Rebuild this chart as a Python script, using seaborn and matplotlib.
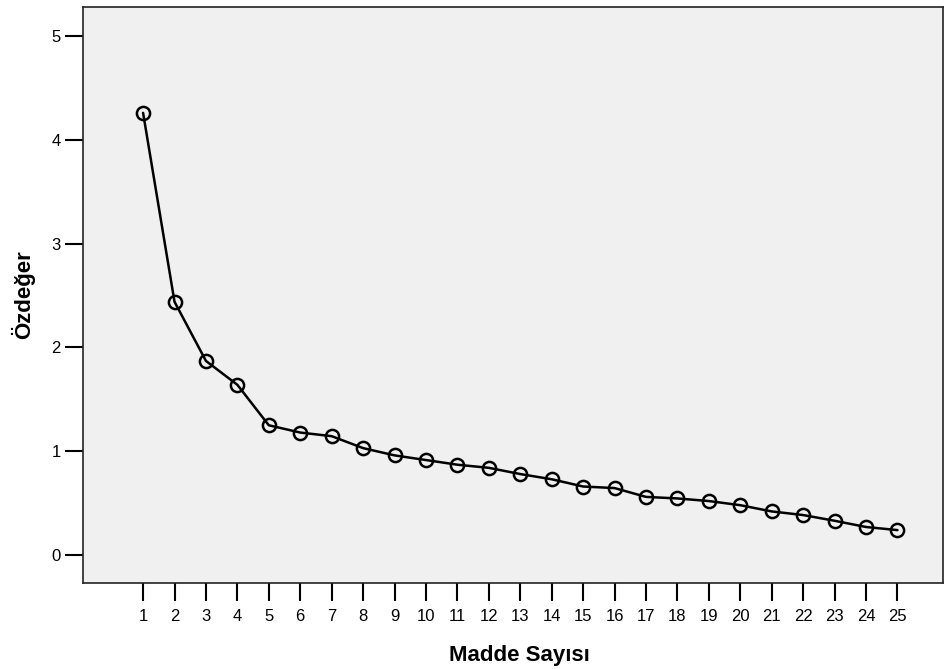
import pandas as pd
import matplotlib.pyplot as plt
import seaborn as sns

# Scree plot values
madde = list(range(1, 26))
ozdeger = [4.26, 2.44, 1.87, 1.64, 1.25, 1.18, 1.145, 1.03, 0.96, 0.915,
           0.87, 0.84, 0.78, 0.73, 0.66, 0.645, 0.56, 0.545, 0.52, 0.48,
           0.42, 0.385, 0.33, 0.27, 0.24]
y_ticks = [0, 1, 2, 3, 4, 5]

df = pd.DataFrame({'Madde Sayısı': madde, 'Özdeğer': ozdeger})

sns.set_style('white')
plt.rcParams['font.family'] = ['Liberation Sans', 'DejaVu Sans']

fig = plt.figure(figsize=(9.47, 6.69), dpi=100)
ax = fig.add_axes([0.0877, 0.1285, 0.9081, 0.861])
ax.set_facecolor('#f0f0f0')

sns.lineplot(data=df, x='Madde Sayısı', y='Özdeğer', ax=ax, color='black',
             linewidth=1.8, marker='o', markersize=9.5, markerfacecolor='none',
             markeredgecolor='black', markeredgewidth=1.8)

ax.set_xlim(-0.91, 26.45)
ax.set_ylim(-0.27, 5.28)
ax.set_xticks(madde)
ax.set_yticks(y_ticks)
ax.tick_params(axis='both', direction='out', length=13, width=1.5,
               labelsize=12, colors='black', bottom=True, left=True)
ax.tick_params(axis='x', pad=6)
ax.tick_params(axis='y', pad=3)
for s in ax.spines.values():
    s.set_color('#222222')
    s.set_linewidth(1.2)

ax.set_xlabel('Madde Sayısı', fontsize=16, fontweight='bold', color='black')
ax.set_ylabel('Özdeğer', fontsize=16, fontweight='bold', color='black')
ax.xaxis.set_label_coords(0.507, -0.107)
ax.yaxis.set_label_coords(-0.056, 0.5)

fig.savefig('out.png', dpi=100)
